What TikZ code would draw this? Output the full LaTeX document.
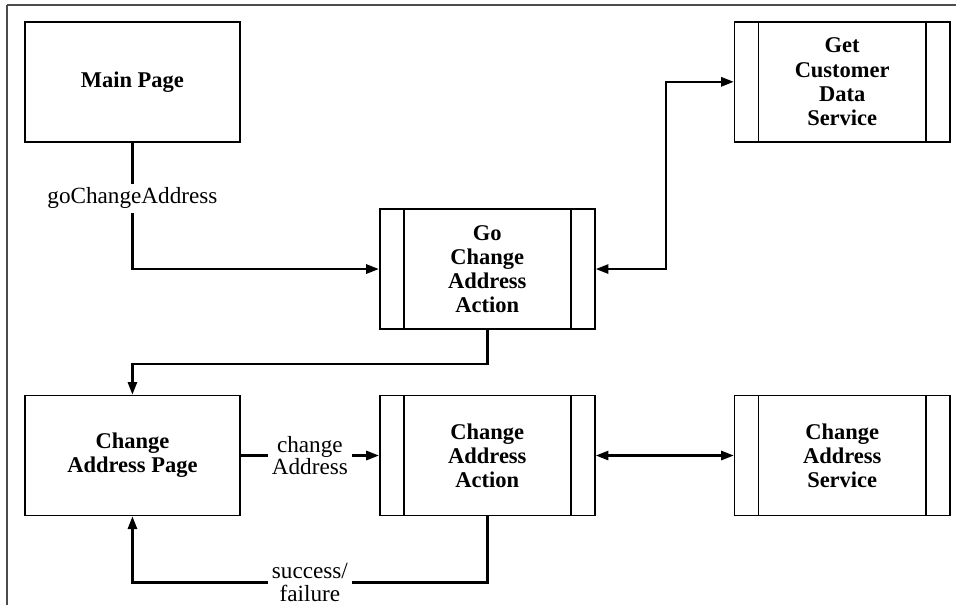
\documentclass[tikz,border=0pt]{standalone}
\usepackage{fontspec}
\setmainfont{Liberation Serif}
\usepackage{tikz}
\usetikzlibrary{arrows.meta,positioning}

\begin{document}
\begin{tikzpicture}[
  box/.style={draw, line width=1.2pt, align=center, font=\fontsize{16}{17.2}\selectfont\bfseries,
    minimum width=5.38cm, minimum height=3.0cm, inner sep=2pt},
  svc/.style={box, path picture={
    \draw[line width=1.2pt] ([xshift=0.6cm]path picture bounding box.north west) -- ([xshift=0.6cm]path picture bounding box.south west);
    \draw[line width=1.2pt] ([xshift=-0.6cm]path picture bounding box.north east) -- ([xshift=-0.6cm]path picture bounding box.south east);}},
  conn/.style={line width=1.7pt, -{Triangle[length=9pt,width=6.5pt]}},
  dconn/.style={line width=1.7pt, {Triangle[length=9pt,width=6.5pt]}-{Triangle[length=9pt,width=6.5pt]}},
  lbl/.style={fill=white, align=center, inner sep=3pt, font=\fontsize{16.5}{16}\selectfont},
]
  % pages and actions
  \node[box] (main) at (0,0) {Main Page};
  \node[box, below=6.3cm of main] (page) {Change\\Address Page};
  \node[svc, right=3.45cm of page] (act) {Change\\Address\\Action};
  \node[svc, right=3.45cm of act] (chsvc) {Change\\Address\\Service};
  \node[svc, above=1.62cm of act] (go) {Go\\Change\\Address\\Action};
  \node[svc, above=6.3cm of chsvc] (getsvc) {Get\\Customer\\Data\\Service};

  % frame and page size
  \coordinate (corner) at ([xshift=-0.425cm, yshift=0.4cm]main.north west);
  \useasboundingbox ([xshift=-0.6cm, yshift=0.525cm]main.north west) rectangle ++(23.9cm,-15.25cm);
  \draw[line width=1pt, black!70] (corner) -- ++(23.8cm,0);
  \draw[line width=1pt, black!70] (corner) -- ++(0,-15cm);

  % flows
  \draw[conn] (main.south) |- node[lbl, pos=0.22] {goChangeAddress} (go.west);
  \draw[dconn] (go.east) -- ++(1.75,0) |- (getsvc.west);
  \draw[conn] (go.south) -- ++(0,-0.85) -| (page.north);
  \draw[conn] (page.east) -- node[lbl] {change\\Address} (act.west);
  \draw[dconn] (act.east) -- (chsvc.west);
  \draw[conn] (act.south) -- ++(0,-1.65) -| node[lbl, pos=0.25] {success/\\failure} (page.south);
\end{tikzpicture}
\end{document}
